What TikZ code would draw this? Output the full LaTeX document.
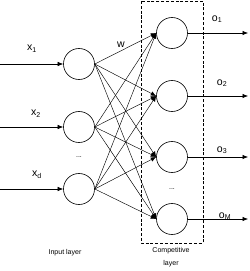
\documentclass[tikz,border=0pt]{standalone}
\usepackage{fontspec}
\setmainfont{Liberation Sans}
\usetikzlibrary{arrows.meta}

\tikzset{neuron/.style={draw,circle,minimum size=1.24cm,inner sep=0pt}}

\begin{document}
\begin{tikzpicture}[x=0.04cm,y=-0.04cm,line width=0.7pt,>={Latex[length=2.2mm,width=1.8mm]}]
  \useasboundingbox (0,0) rectangle (250,271);
  % input layer
  \node[neuron] (in1) at (79,64){};
  \node[neuron] (in2) at (79,127){};
  \node[neuron] (in3) at (79,189){};
  \coordinate (s1) at (0,64);
  \coordinate (s2) at (0,127);
  \coordinate (s3) at (0,189);
  \draw[->] (s1)--(in1);
  \draw[->] (s2)--(in2);
  \draw[->] (s3)--(in3);
  \node[font=\large] (lx1) at (32,49){x\textsubscript{1}};
  \node[font=\large] (lx2) at (36,114){x\textsubscript{2}};
  \node[font=\large] (lx3) at (37,175){x\textsubscript{d}};
  \node[font=\footnotesize] (dotsin) at (79,157){...};
  \node[font=\footnotesize] (lin) at (65,253){Input layer};
  % competitive layer
  \node[neuron] (out1) at (172,33){};
  \node[neuron] (out2) at (172,96){};
  \node[neuron] (out3) at (172,157){};
  \node[neuron] (out4) at (172,219){};
  \node[font=\footnotesize] (dotsout) at (172,189){...};
  \draw[dash pattern=on 3.5pt off 2pt] (141,1) rectangle (203,243);
  \node[font=\footnotesize,align=center] (lcomp) at (171,257){Competitive\\[5pt]layer};
  % weights
  \foreach \i in {1,2,3}
    \foreach \j in {1,2,3,4}
      \draw[->,line width=0.5pt] (in\i.east)--(out\j.west);
  \node[font=\large] (lw) at (121,45){w};
  % outputs
  \coordinate (e1) at (248,33);
  \coordinate (e2) at (248,96);
  \coordinate (e3) at (248,157);
  \coordinate (e4) at (248,219);
  \foreach \j in {1,2,3,4}
    \draw[->] (out\j)--(e\j);
  \node[font=\large] (lo1) at (217,19){o\textsubscript{1}};
  \node[font=\large] (lo2) at (222,83){o\textsubscript{2}};
  \node[font=\large] (lo3) at (222,150){o\textsubscript{3}};
  \node[font=\large] (lo4) at (225,216){o\textsubscript{M}};
\end{tikzpicture}
\end{document}
